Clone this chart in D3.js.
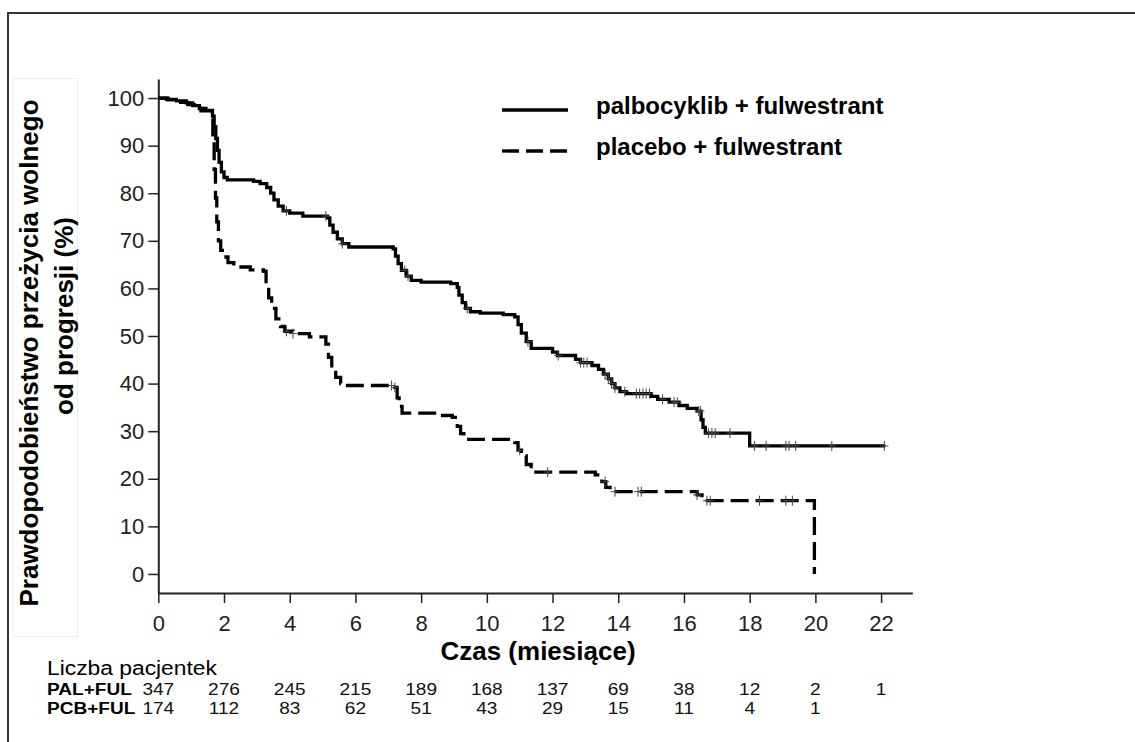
<!DOCTYPE html>
<html><head><meta charset="utf-8">
<script src="https://cdn.jsdelivr.net/npm/d3@7"></script>
<style>body{margin:0;background:#fff}svg{display:block}</style>
</head><body><svg id="c" width="1135" height="742"></svg>
<script>
const xTicks = [0,2,4,6,8,10,12,14,16,18,20,22];
const yTicks = [0,10,20,30,40,50,60,70,80,90,100];
const seriesNames = ["palbocyklib + fulwestrant","placebo + fulwestrant"];
const palSteps = [[0,100],[0.25,99.7],[0.55,99.4],[0.85,99.0],[1.05,98.4],[1.25,97.8],[1.45,97.4],[1.65,96.2],[1.7,94],[1.75,91.5],[1.8,89],[1.85,86.5],[1.92,84.5],[2.0,83.3],[2.1,82.8],[2.9,82.5],[3.1,82.0],[3.3,81.2],[3.42,80],[3.52,78.6],[3.65,77.3],[3.8,76.3],[4.0,75.8],[4.4,75.2],[5.15,74.8],[5.22,73.3],[5.32,71.8],[5.45,70.4],[5.6,69.4],[5.8,68.7],[7.15,68.3],[7.22,66.8],[7.3,65.2],[7.4,63.8],[7.55,62.6],[7.7,61.7],[8.0,61.3],[8.9,61.0],[9.1,60.2],[9.15,58.6],[9.25,57.0],[9.35,55.8],[9.5,55.1],[9.8,54.8],[10.5,54.5],[10.85,54.0],[10.95,52.4],[11.05,50.6],[11.2,48.8],[11.35,47.4],[12.0,46.6],[12.15,45.9],[12.7,45.1],[12.85,44.4],[13.2,43.8],[13.4,43.0],[13.55,42.0],[13.7,41.0],[13.8,40.0],[13.9,39.1],[14.05,38.3],[14.25,37.9],[15.0,37.3],[15.2,36.7],[15.55,36.1],[15.85,35.4],[16.1,34.8],[16.4,34.2],[16.52,32.4],[16.58,30.8],[16.65,29.6],[18.0,26.9],[22.13,26.9]];
const pcbSteps = [[0,100],[0.3,99.6],[0.6,99.1],[0.9,98.6],[1.1,97.9],[1.3,97.3],[1.62,96.8],[1.66,91],[1.7,85],[1.74,79],[1.78,74],[1.83,70],[1.9,68],[2.0,66.6],[2.12,65.4],[2.3,64.5],[2.8,63.9],[3.2,63.6],[3.28,61],[3.36,58],[3.45,55.8],[3.58,53.6],[3.72,52],[3.85,51],[4.1,50.5],[4.6,49.8],[5.1,48.3],[5.18,45.5],[5.28,43],[5.4,41.3],[5.55,40],[5.7,39.6],[7.2,39.2],[7.27,37],[7.33,35.2],[7.42,33.8],[8.5,33.3],[8.95,32.9],[9.1,31],[9.2,29.5],[9.3,28.3],[10.85,27.6],[10.95,26],[11.05,24.8],[11.2,23],[11.35,21.4],[13.3,20.8],[13.5,19.4],[13.62,18.2],[13.75,17.3],[16.4,16.6],[16.55,15.4],[19.97,0]];
const palCensor = [3.9,5.1,5.6,7.5,7.6,9.4,11.25,12.17,12.85,12.95,13.05,13.6,13.7,13.8,13.9,14.2,14.55,14.65,14.75,14.85,14.95,15.35,15.7,15.8,16.45,16.5,16.75,16.85,16.95,17.4,18.15,18.5,19.1,19.2,19.4,20.5,22.1];
const pcbCensor = [3.9,4.1,7.1,7.2,11.0,11.85,13.6,13.9,14.6,14.7,16.4,16.7,16.8,18.3,19.1,19.3];
const riskTimes = [0,2,4,6,8,10,12,14,16,18,20,22];
const riskLabels = ["PAL+FUL","PCB+FUL"];
const palAtRisk = [347,276,245,215,189,168,137,69,38,12,2,1];
const pcbAtRisk = [174,112,83,62,51,43,29,15,11,4,1];

const FONT = "'Liberation Sans', Arial, Helvetica, sans-serif";
const svg = d3.select("#c").style("font-family", FONT);

// frame
svg.append("rect").attr("x",8).attr("y",13).attr("width",1400).attr("height",1000)
  .attr("fill","none").attr("stroke","#333").attr("stroke-width",2);
svg.append("rect").attr("x",13.5).attr("y",78.5).attr("width",64).attr("height",558)
  .attr("fill","none").attr("stroke","#eeeeee").attr("stroke-width",1);

const x = d3.scaleLinear().domain([0,22.95]).range([158.3,912.3]);
const y = d3.scaleLinear().domain([-4,104]).range([593,79]);

// axes
const gx = svg.append("g").attr("transform","translate(0,593)")
  .call(d3.axisBottom(x).tickValues(xTicks).tickSize(10).tickSizeOuter(0).tickPadding(12));
const gy = svg.append("g").attr("transform","translate(158.3,0)")
  .call(d3.axisLeft(y).tickValues(yTicks).tickSize(10).tickSizeOuter(0).tickPadding(4));
[gx,gy].forEach(g=>{
  g.select(".domain").attr("stroke","#222").attr("stroke-width",2);
  g.selectAll(".tick line").attr("stroke","#222").attr("stroke-width",1.5);
  g.selectAll(".tick text").attr("fill","#222").style("font-size","22px").style("font-family",FONT);
});

// curves
const line = d3.line().x(d=>x(d[0])).y(d=>y(d[1])).curve(d3.curveStepAfter);
svg.append("path").datum(palSteps).attr("d",line).attr("fill","none")
  .attr("stroke","#000").attr("stroke-width",3.3);
svg.append("path").datum(pcbSteps).attr("d",line).attr("fill","none")
  .attr("stroke","#000").attr("stroke-width",3.3).attr("stroke-dasharray","18,7");

function stepAt(steps,t){
  let v = steps[0][1];
  for (const s of steps){ if (s[0] <= t) v = s[1]; else break; }
  return v;
}
function censorMarks(steps, times){
  svg.append("g").selectAll("path").data(times).join("path")
    .attr("d", t => {
      const cx = x(t), cy = y(stepAt(steps,t));
      return `M${cx-4},${cy}H${cx+4}M${cx},${cy-5}V${cy+5}`;
    })
    .attr("stroke","#444").attr("stroke-width",1).attr("fill","none");
}
censorMarks(palSteps, palCensor);
censorMarks(pcbSteps, pcbCensor);

// legend
const legend = svg.append("g");
legend.append("line").attr("x1",502).attr("x2",568).attr("y1",110).attr("y2",110)
  .attr("stroke","#000").attr("stroke-width",3.3);
legend.append("line").attr("x1",502).attr("x2",567).attr("y1",151).attr("y2",151)
  .attr("stroke","#000").attr("stroke-width",3.3).attr("stroke-dasharray","17,7");
legend.selectAll("text").data(seriesNames).join("text")
  .attr("x",596).attr("y",(d,i)=> i===0 ? 114 : 155)
  .style("font-size","24px").style("font-weight","bold").attr("fill","#000")
  .text(d=>d);

// axis titles
svg.append("text").attr("x",538).attr("y",660).attr("text-anchor","middle")
  .style("font-size","26px").style("font-weight","bold").text("Czas (miesiące)");
svg.append("text").attr("transform","translate(37.5,353) rotate(-90)").attr("text-anchor","middle")
  .style("font-size","26px").style("font-weight","bold").text("Prawdopodobieństwo przeżycia wolnego");
svg.append("text").attr("transform","translate(72.5,316) rotate(-90)").attr("text-anchor","middle")
  .style("font-size","26px").style("font-weight","bold").text("od progresji (%)");

// risk table
svg.append("text").attr("transform","translate(47,675) scale(1.17,1)")
  .style("font-size","19.5px").attr("fill","#000").text("Liczba pacjentek");
const SX = 1.19;
[palAtRisk, pcbAtRisk].forEach((arr,i)=>{
  const by = i===0 ? 695 : 713.5;
  svg.append("text").attr("transform",`translate(47,${by}) scale(${SX},1)`)
    .style("font-size","16px").style("font-weight","bold").attr("fill","#000").text(riskLabels[i]);
  svg.append("g").selectAll("text").data(arr).join("text")
    .attr("transform",(d,j)=>`translate(${x(riskTimes[j])},${by}) scale(${SX},1)`)
    .attr("text-anchor","middle").style("font-size","16px").attr("fill","#111").text(d=>d);
});
</script></body></html>
